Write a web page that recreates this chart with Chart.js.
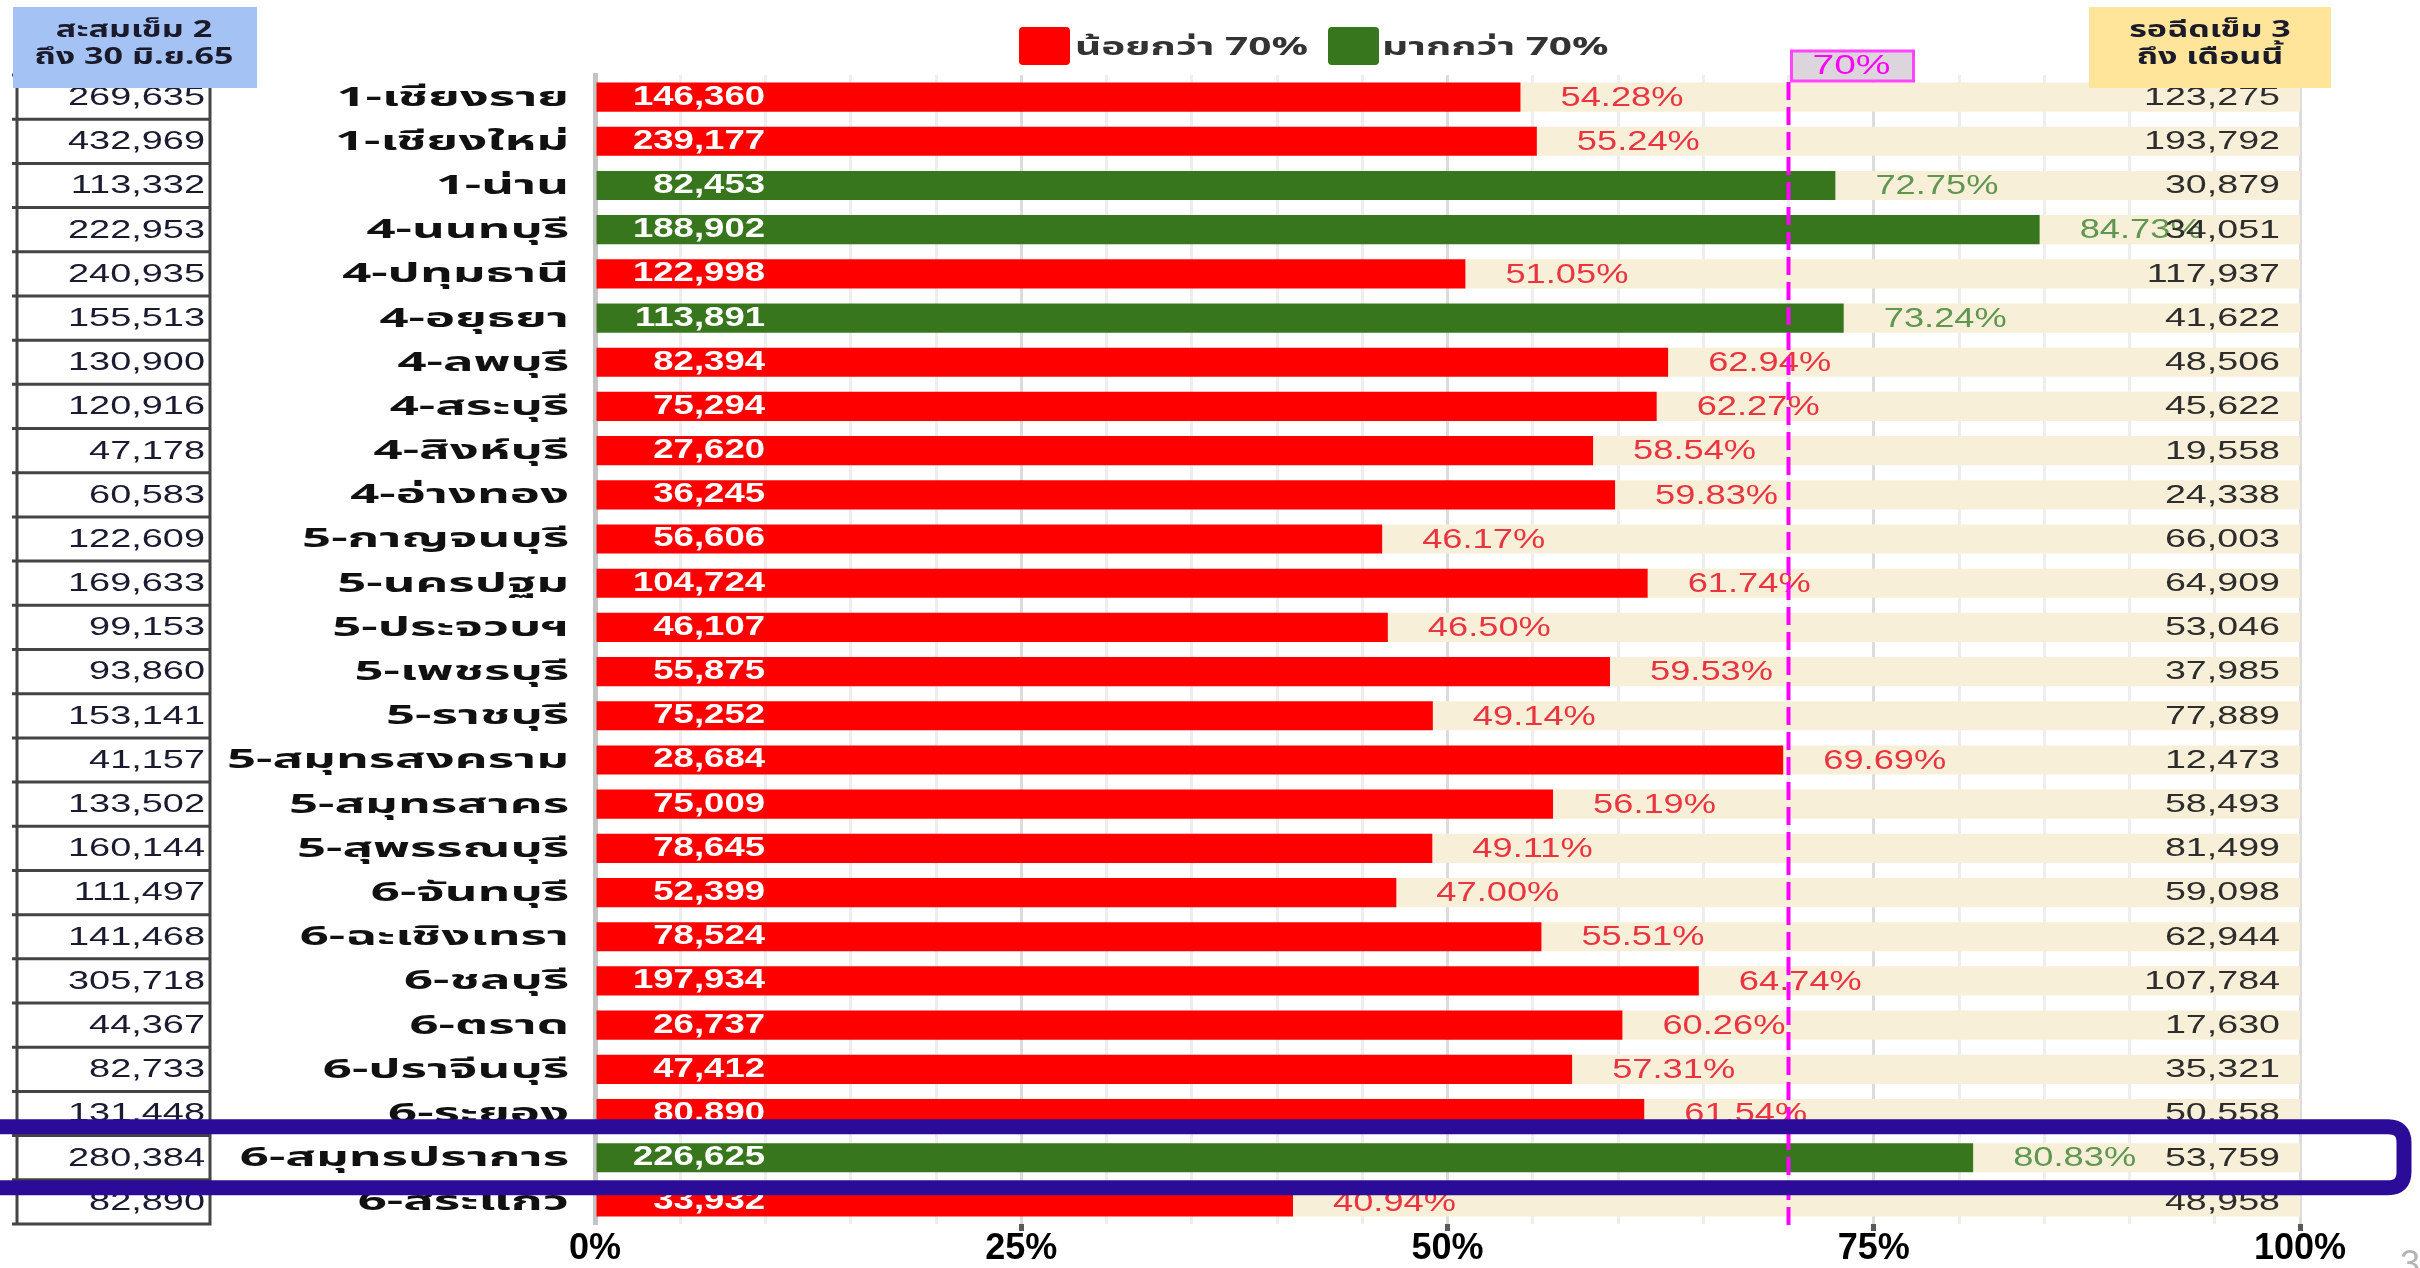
<!DOCTYPE html>
<html>
<head>
<meta charset="utf-8">
<script src="https://cdn.jsdelivr.net/npm/chart.js@4.4.1/dist/chart.umd.min.js"></script>
<style>
  html, body { margin: 0; padding: 0; background: #ffffff; }
  #wrap { position: relative; width: 2420px; height: 1268px; overflow: hidden; }
</style>
</head>
<body>
<div id="wrap"><canvas id="c"></canvas></div>
<script>
// ---------------- DATA ----------------
const categories = ['1-เชียงราย','1-เชียงใหม่','1-น่าน','4-นนทบุรี','4-ปทุมธานี','4-อยุธยา','4-ลพบุรี','4-สระบุรี','4-สิงห์บุรี','4-อ่างทอง','5-กาญจนบุรี','5-นครปฐม','5-ประจวบฯ','5-เพชรบุรี','5-ราชบุรี','5-สมุทรสงคราม','5-สมุทรสาคร','5-สุพรรณบุรี','6-จันทบุรี','6-ฉะเชิงเทรา','6-ชลบุรี','6-ตราด','6-ปราจีนบุรี','6-ระยอง','6-สมุทรปราการ','6-สระแก้ว'];
const dose2Total = [269635,432969,113332,222953,240935,155513,130900,120916,47178,60583,122609,169633,99153,93860,153141,41157,133502,160144,111497,141468,305718,44367,82733,131448,280384,82890];
const dose3Done = [146360,239177,82453,188902,122998,113891,82394,75294,27620,36245,56606,104724,46107,55875,75252,28684,75009,78645,52399,78524,197934,26737,47412,80890,226625,33932];
const dose3Pct = [54.28,55.24,72.75,84.73,51.05,73.24,62.94,62.27,58.54,59.83,46.17,61.74,46.50,59.53,49.14,69.69,56.19,49.11,47.00,55.51,64.74,60.26,57.31,61.54,80.83,40.94];
const waitingDose3 = [123275,193792,30879,34051,117937,41622,48506,45622,19558,24338,66003,64909,53046,37985,77889,12473,58493,81499,59098,62944,107784,17630,35321,50558,53759,48958];
const xTickLabels = [0, 25, 50, 75, 100];
const threshold = 70;
const legendLabels = ['น้อยกว่า 70%', 'มากกว่า 70%'];
const leftHeader = ['สะสมเข็ม 2', 'ถึง 30 มิ.ย.65'];
const rightHeader = ['รอฉีดเข็ม 3', 'ถึง เดือนนี้'];
const thresholdLabel = '70%';
const highlightCategory = '6-สมุทรปราการ';
const pageNumber = '3';

// ---------------- STYLE ----------------
const RED = '#ff0000';
const GREEN = '#38761d';
const BEIGE = '#f8efd8';
const THAI = "'Noto Sans Thai', 'Noto Sans', 'Liberation Sans', sans-serif";
const NUM = "'Liberation Sans', Arial, sans-serif";
const fmt = v => v.toLocaleString('en-US');
const remainderPct = dose3Pct.map(p => +(100 - p).toFixed(2));

function fitScale(ctx, font, sample, target) {
  ctx.font = font;
  return target / ctx.measureText(sample).width;
}
function sText(ctx, text, x, y, align, sx) {
  ctx.save();
  ctx.translate(x, y);
  ctx.scale(sx, 1);
  ctx.textAlign = align;
  ctx.textBaseline = 'middle';
  ctx.fillText(text, 0, 0);
  ctx.restore();
}
function roundRect(ctx, x, y, w, h, r) {
  ctx.beginPath();
  ctx.moveTo(x + r, y);
  ctx.lineTo(x + w - r, y);
  ctx.quadraticCurveTo(x + w, y, x + w, y + r);
  ctx.lineTo(x + w, y + h - r);
  ctx.quadraticCurveTo(x + w, y + h, x + w - r, y + h);
  ctx.lineTo(x + r, y + h);
  ctx.quadraticCurveTo(x, y + h, x, y + h - r);
  ctx.lineTo(x, y + r);
  ctx.quadraticCurveTo(x, y, x + r, y);
  ctx.closePath();
}

const overlay = {
  id: 'overlay',
  afterDatasetsDraw(chart) {
    const { ctx, chartArea: ca, scales: { x, y } } = chart;
    const step = y.getPixelForValue(1) - y.getPixelForValue(0);
    ctx.save();

    // --- stretch factors (text in source image is horizontally stretched)
    const fCat = `bold 27px ${THAI}`;
    const sxCat = fitScale(ctx, fCat, '5-สมุทรสงคราม', 342);
    const fTab = `25px ${NUM}`;
    const sxTab = fitScale(ctx, fTab, '222,953', 137);
    const fRem = `25px ${NUM}`;
    const sxRem = fitScale(ctx, fRem, '123,275', 136);
    const fPct = `28px ${NUM}`;
    const sxPct = fitScale(ctx, fPct, '51.05%', 123);
    const fVal = `bold 27px ${NUM}`;
    const sxVal = fitScale(ctx, fVal, '146,360', 132);

    categories.forEach((cat, i) => {
      const cy = y.getPixelForValue(i);
      const xEnd = x.getPixelForValue(dose3Pct[i]);
      // values inside bar
      ctx.font = fVal; ctx.fillStyle = '#ffffff';
      sText(ctx, fmt(dose3Done[i]), x.getPixelForValue(0) + 170, cy, 'right', sxVal);
      // percent labels
      ctx.font = fPct;
      ctx.fillStyle = dose3Pct[i] >= threshold ? '#5f9650' : '#ea3440';
      sText(ctx, dose3Pct[i].toFixed(2) + '%', xEnd + 40, cy + 1, 'left', sxPct);
      // waiting numbers at right
      ctx.font = fRem; ctx.fillStyle = '#2d2d2d';
      sText(ctx, fmt(waitingDose3[i]), x.getPixelForValue(100) - 20, cy + 1, 'right', sxRem);
      // category labels
      ctx.font = fCat; ctx.fillStyle = '#111111';
      sText(ctx, cat, ca.left - 26, cy + 3, 'right', sxCat);
    });

    // --- threshold dashed line
    const x70 = x.getPixelForValue(threshold);
    ctx.strokeStyle = '#ff00ff';
    ctx.lineWidth = 4;
    ctx.setLineDash([18, 7]);
    ctx.beginPath();
    ctx.moveTo(x70, 82);
    ctx.lineTo(x70, ca.bottom + 6);
    ctx.stroke();
    ctx.setLineDash([]);
    // threshold label box
    ctx.fillStyle = '#dcd6dc';
    ctx.fillRect(x70 + 3, 51, 122, 30);
    ctx.strokeStyle = '#ff44ff';
    ctx.lineWidth = 3;
    ctx.strokeRect(x70 + 3, 51, 122, 30);
    const fThr = `27px ${NUM}`;
    const sxThr = fitScale(ctx, fThr, thresholdLabel, 78);
    ctx.font = fThr; ctx.fillStyle = '#ff00ff';
    sText(ctx, thresholdLabel, x70 + 63, 67, 'center', sxThr);

    // --- left table
    const tL = 17, tR = 210;
    const top = y.getPixelForValue(0) - step / 2;
    const bot = y.getPixelForValue(categories.length - 1) + step / 2;
    ctx.strokeStyle = '#444444';
    ctx.lineWidth = 3;
    ctx.beginPath();
    ctx.moveTo(tL, top); ctx.lineTo(tL, bot);
    ctx.moveTo(tR, top); ctx.lineTo(tR, bot);
    for (let i = 0; i <= categories.length; i++) {
      const by = y.getPixelForValue(0) - step / 2 + i * step;
      ctx.moveTo(12, by); ctx.lineTo(tR + 1.5, by);
    }
    ctx.stroke();
    ctx.font = fTab; ctx.fillStyle = '#1b1b30';
    dose2Total.forEach((v, i) => {
      sText(ctx, fmt(v), 205, y.getPixelForValue(i) + 1, 'right', sxTab);
    });

    // --- header boxes
    const fHead = `bold 23px ${THAI}`;
    const sxHead = fitScale(ctx, fHead, leftHeader[1], 199);
    ctx.fillStyle = '#a4c2f4';
    ctx.fillRect(13, 7, 244, 81);
    ctx.fillStyle = '#ffe599';
    ctx.fillRect(2089, 7, 242, 81);
    ctx.font = fHead; ctx.fillStyle = '#1a1a2a';
    sText(ctx, leftHeader[0], 134, 32, 'center', sxHead);
    sText(ctx, leftHeader[1], 134, 59, 'center', sxHead);
    sText(ctx, rightHeader[0], 2210, 32, 'center', sxHead);
    sText(ctx, rightHeader[1], 2210, 59, 'center', sxHead);

    // --- legend
    const fLeg = `bold 25px ${THAI}`;
    const sxLeg = fitScale(ctx, fLeg, legendLabels[0], 233);
    ctx.fillStyle = RED;
    roundRect(ctx, 1019, 27, 51, 38, 4); ctx.fill();
    ctx.fillStyle = GREEN;
    roundRect(ctx, 1328, 27, 51, 38, 4); ctx.fill();
    ctx.font = fLeg; ctx.fillStyle = '#333333';
    sText(ctx, legendLabels[0], 1075, 50, 'left', sxLeg);
    sText(ctx, legendLabels[1], 1382, 50, 'left', sxLeg);

    // --- highlight of one row
    const hi = categories.indexOf(highlightCategory);
    const hy = y.getPixelForValue(hi);
    ctx.strokeStyle = '#2b0c99';
    ctx.lineWidth = 15;
    roundRect(ctx, -30, hy - 31, 2434, 61, 16);
    ctx.stroke();

    // --- page number
    ctx.font = `36px ${NUM}`; ctx.fillStyle = '#b4b4b4';
    ctx.textAlign = 'left'; ctx.textBaseline = 'top';
    ctx.fillText(pageNumber, 2400, 1248);

    ctx.restore();
  }
};

new Chart(document.getElementById('c'), {
  type: 'bar',
  data: {
    labels: categories,
    datasets: [
      {
        label: 'dose3',
        data: dose3Pct,
        backgroundColor: ctx => (ctx.raw >= threshold ? GREEN : RED),
        barPercentage: 0.66,
        categoryPercentage: 1,
        borderWidth: 0
      },
      {
        label: 'waiting',
        data: remainderPct,
        backgroundColor: BEIGE,
        barPercentage: 0.66,
        categoryPercentage: 1,
        borderWidth: 0
      }
    ]
  },
  options: {
    responsive: true,
    maintainAspectRatio: false,
    animation: false,
    devicePixelRatio: 1,
    indexAxis: 'y',
    layout: { padding: { left: 0, right: 120, top: 75, bottom: 0 } },
    plugins: { legend: { display: false }, tooltip: { enabled: false } },
    scales: {
      x: {
        stacked: true,
        min: 0,
        max: 100,
        afterFit: s => { s.height = 44; },
        afterBuildTicks: s => { s.ticks = []; for (let v = 0; v <= 100; v += 5) s.ticks.push({ value: v }); },
        ticks: {
          autoSkip: false,
          maxRotation: 0,
          padding: 0,
          color: '#000000',
          font: { family: NUM, size: 36, weight: 'bold', lineHeight: 1 },
          callback: v => (xTickLabels.includes(v) ? v + '%' : '')
        },
        grid: {
          lineWidth: 3,
          color: c => (c.tick && c.tick.value % 25 === 0 ? '#dcdcdc' : '#eeeeee'),
          tickLength: 7,
          tickWidth: 5,
          tickColor: c => (c.tick && c.tick.value % 25 === 0 && c.tick.value > 0 ? '#5a5a5a' : 'rgba(0,0,0,0)')
        },
        border: { display: false }
      },
      y: {
        stacked: true,
        afterFit: s => { s.width = 595; },
        ticks: { display: false },
        grid: { display: false },
        border: { display: true, color: '#c4c4c4', width: 5 }
      }
    }
  },
  plugins: [overlay]
});
</script>
</body>
</html>
